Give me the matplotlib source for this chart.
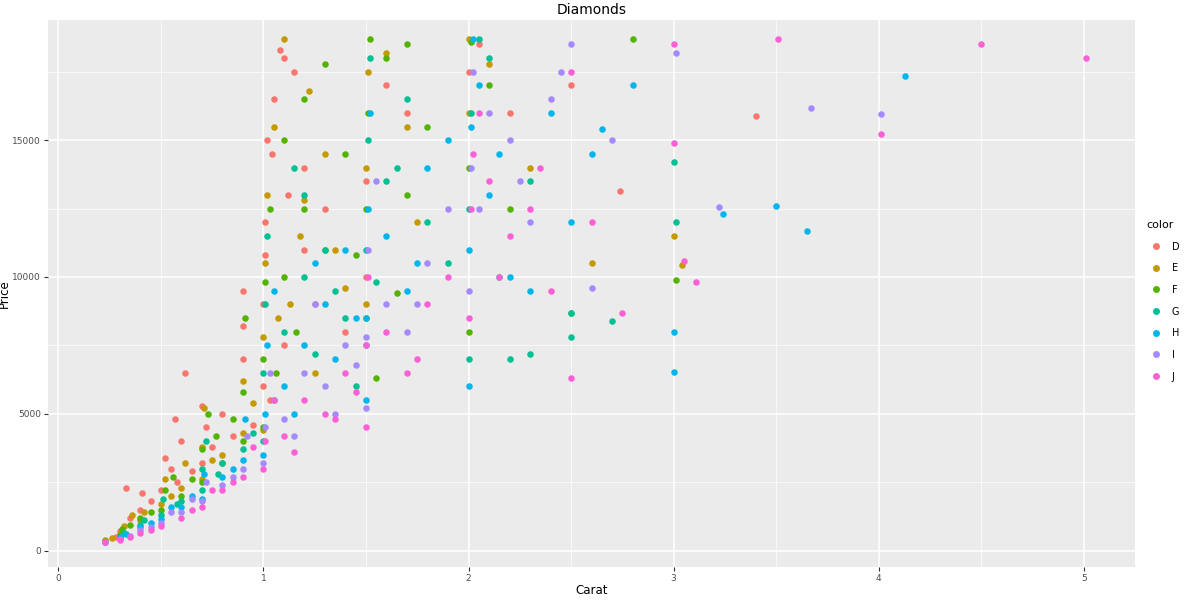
import matplotlib
matplotlib.use("Agg")
import matplotlib.pyplot as plt
from matplotlib.lines import Line2D

levels = ["D", "E", "F", "G", "H", "I", "J"]
palette = ["#F8766D", "#C49A00", "#53B400", "#00C094", "#00B6EB", "#A58AFF", "#FB61D7"]

carat_D = [0.23,0.28,0.3,0.35,0.4,0.45,0.5,0.55,0.58,0.6,0.62,0.65,0.7,0.72,0.75,0.8,0.85,0.9,0.9,0.95,1.0,1.0,1.01,1.02,1.03,1.05,1.08,1.1,1.1,1.15,1.2,1.2,1.25,1.3,1.4,1.5,1.5,1.6,1.7,2.0,2.05,2.2,2.5,2.74,3.4,0.33,0.52,0.7,0.9,1.01,1.04,1.12,0.57,0.41]
price_D = [380,500,700,1200,1500,1800,2200,3000,2500,4000,6500,2900,3200,4500,3800,5000,4200,7000,9500,4600,6000,9000,12000,15000,5500,16500,18300,18000,7500,17500,11000,14000,9000,12500,8000,10000,13500,17000,16000,17500,18500,16000,17000,13156,15900,2300,3400,5300,8200,10800,14500,13000,4800,2100]

carat_E = [0.23,0.26,0.3,0.32,0.4,0.42,0.5,0.52,0.6,0.7,0.7,0.71,0.8,0.9,0.9,1.0,1.0,1.01,1.02,1.05,1.1,1.13,1.2,1.22,1.3,1.35,1.5,1.5,1.51,1.6,1.7,1.75,2.0,2.0,2.1,2.3,2.6,3.0,3.04,0.36,0.55,0.62,0.75,0.95,1.07,1.18,1.25,1.4]
price_E = [350,450,600,900,1100,1400,1700,2600,2300,2600,3800,5200,3500,4300,6200,4400,7800,10500,13000,15500,18700,9000,12800,16800,14500,11000,9000,14000,17500,18200,15500,12000,16000,18700,17800,14000,10500,11500,10453,1300,2000,3200,3300,5400,8500,11500,6500,9600]

carat_F = [0.23,0.3,0.31,0.35,0.4,0.5,0.52,0.56,0.6,0.7,0.7,0.73,0.8,0.9,0.9,0.91,1.0,1.0,1.01,1.03,1.1,1.1,1.2,1.2,1.3,1.3,1.4,1.5,1.5,1.51,1.52,1.6,1.7,1.7,1.8,2.0,2.0,2.01,2.1,2.2,2.5,2.8,3.01,0.45,0.65,0.77,0.85,1.06,1.16,1.45,1.55,1.65]
price_F = [340,560,800,950,1200,1500,2200,2700,2000,2500,3700,5000,3200,4000,5800,8500,4500,7000,9800,12500,15000,10000,12500,16500,11000,17800,14500,8500,12500,16000,18700,18000,13000,18500,15500,8000,14000,18600,17000,12500,8700,18700,9900,1400,2600,4200,4800,6500,8000,10800,6300,9400]

carat_G = [0.23,0.3,0.32,0.4,0.5,0.51,0.6,0.7,0.7,0.72,0.8,0.9,1.0,1.0,1.01,1.02,1.1,1.15,1.2,1.2,1.3,1.4,1.5,1.5,1.51,1.52,1.6,1.7,1.8,1.9,2.0,2.0,2.01,2.05,2.1,2.2,2.3,2.5,2.5,2.7,3.0,3.01,0.42,0.58,0.78,0.95,1.05,1.25,1.35,1.45,1.55,1.65,2.15,2.3]
price_G = [330,500,650,950,1300,1900,1800,2200,3000,4000,3200,3700,4000,6500,9000,11500,8000,14000,10000,13000,11000,8500,7500,11000,15000,18000,13500,16500,12000,10500,7000,12500,16000,18700,18000,7000,7200,7800,8700,8400,14200,12000,1100,1700,2800,4300,5500,7200,9500,6000,9800,14000,10000,13500]

carat_H = [0.23,0.3,0.33,0.4,0.5,0.55,0.6,0.7,0.71,0.8,0.9,0.91,1.0,1.01,1.02,1.05,1.1,1.2,1.25,1.3,1.4,1.5,1.5,1.51,1.52,1.6,1.7,1.8,1.9,2.0,2.0,2.01,2.02,2.05,2.1,2.2,2.3,2.5,2.6,2.8,3.0,3.0,3.24,3.5,3.65,4.13,0.45,0.65,0.85,1.15,1.35,1.45,1.75,2.15,2.4,2.65]
price_H = [330,480,600,850,1150,1600,1600,1900,2800,2700,3300,4800,3500,5000,7500,9500,6000,7500,10500,9000,11000,5500,8500,12500,16000,11500,9500,14000,15000,6000,11000,15500,18700,17000,13000,10000,9500,12000,14500,17000,6512,8000,12300,12587,11668,17329,1000,2000,3000,5000,7000,8500,10500,14500,16000,15400]

carat_I = [0.23,0.3,0.35,0.4,0.5,0.55,0.6,0.7,0.72,0.8,0.9,0.92,1.0,1.01,1.03,1.1,1.2,1.25,1.3,1.4,1.5,1.5,1.51,1.55,1.6,1.7,1.8,1.9,2.0,2.01,2.02,2.1,2.2,2.3,2.4,2.5,2.6,2.7,3.01,3.22,3.67,4.01,0.45,0.65,0.85,1.15,1.35,1.45,1.75,2.05,2.25,2.45]
price_I = [330,430,550,750,1000,1400,1400,1800,2500,2400,3000,4200,3200,4500,6500,4800,6500,9000,6000,7500,5200,7800,11000,13500,9000,8000,10500,12500,9500,14000,17500,16000,15000,12000,16500,18500,9600,15000,18200,12545,16193,15970,850,1900,2700,4200,5000,6800,9000,12500,13500,17500]

carat_J = [0.23,0.3,0.35,0.4,0.5,0.6,0.7,0.75,0.8,0.9,0.95,1.0,1.01,1.05,1.1,1.2,1.3,1.4,1.5,1.5,1.51,1.6,1.7,1.8,1.9,2.0,2.01,2.02,2.05,2.1,2.2,2.3,2.4,2.5,2.5,2.6,2.75,3.0,3.0,3.05,3.11,3.51,4.01,4.5,5.01,0.45,0.65,0.85,1.15,1.35,1.45,1.75,2.15,2.35]
price_J = [320,400,500,650,900,1200,1600,2200,2200,2700,3800,3000,4000,5500,4200,5500,5000,6500,4500,7500,10000,8000,6500,9000,10000,8500,12500,14500,16000,13500,11500,12500,9500,6300,17500,12000,8700,18500,14900,10600,9823,18701,15223,18531,18018,750,1500,2500,3600,4800,5800,7000,10000,14000]

carats = [carat_D, carat_E, carat_F, carat_G, carat_H, carat_I, carat_J]
prices = [price_D, price_E, price_F, price_G, price_H, price_I, price_J]

fig = plt.figure(figsize=(12, 6), dpi=100)
ax = fig.add_axes([0.04, 0.055, 0.906, 0.912])
ax.set_facecolor("#EBEBEB")
for c, p, col in zip(carats, prices, palette):
    ax.scatter(c, p, s=22, color=col, linewidths=0, zorder=3)

ax.set_xlim(-0.05, 5.25)
ax.set_ylim(-600, 19400)
ax.set_xticks([0, 1, 2, 3, 4, 5])
ax.set_yticks([0, 5000, 10000, 15000])
ax.set_xticks([0.5, 1.5, 2.5, 3.5, 4.5], minor=True)
ax.set_yticks([2500, 7500, 12500, 17500], minor=True)
ax.grid(True, which="major", color="white", linewidth=1.1, zorder=0)
ax.grid(True, which="minor", color="white", linewidth=0.5, zorder=0)
ax.set_axisbelow(True)
for s in ax.spines.values():
    s.set_visible(False)
ax.tick_params(which="both", length=3, pad=2, color="#333333", labelsize=6.5, labelcolor="#4D4D4D")
ax.tick_params(which="minor", length=0)
ax.set_xlabel("Carat", fontsize=8.5, labelpad=1)
ax.set_ylabel("Price", fontsize=8.5, labelpad=1)
ax.set_title("Diamonds", fontsize=10, pad=4)

handles = [Line2D([], [], marker="o", linestyle="", markersize=5, color=c,
                  markeredgewidth=0) for c in palette]
leg = fig.legend(handles, levels, title="color", loc="upper left",
                 bbox_to_anchor=(0.952, 0.64), frameon=False, fontsize=7,
                 title_fontsize=8, handletextpad=0.6, labelspacing=1.2,
                 borderaxespad=0)
leg._legend_box.align = "left"

fig.savefig("out.png", dpi=100)
